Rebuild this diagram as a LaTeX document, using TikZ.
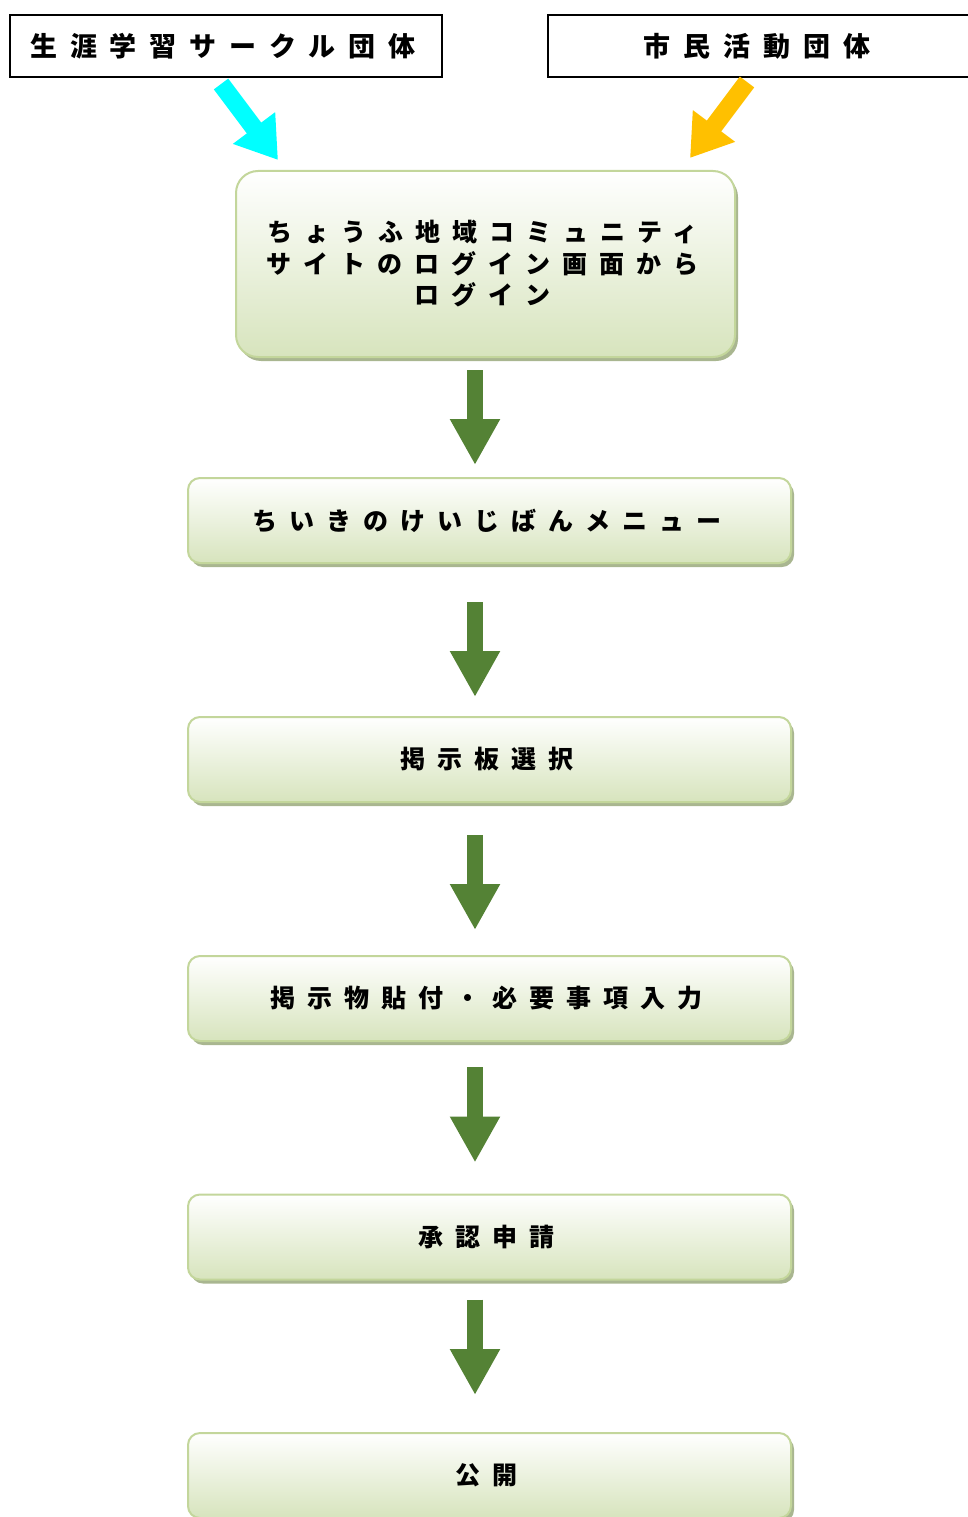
\documentclass[tikz,border=0pt]{standalone}
\usepackage{fontspec}
\newfontfamily\jp{Noto Sans CJK JP}[LetterSpace=48]
\usetikzlibrary{arrows.meta,shadows}

\definecolor{boxline}{HTML}{C3D69B}
\definecolor{boxfill}{HTML}{D7E4BD}
\definecolor{boxshade}{HTML}{A9B690}
\definecolor{flowgreen}{HTML}{548235}
\definecolor{leftcyan}{HTML}{00FFFF}
\definecolor{rightgold}{HTML}{FFC000}

\newcommand\tail{\kern6pt}

\tikzset{
  group/.style={draw=black, line width=1.5pt, fill=white, inner sep=0pt,
    minimum height=62pt, font=\jp\bfseries\fontsize{27}{30}\selectfont},
  stepbox/.style={draw=boxline, line width=2pt, rounded corners=12pt,
    top color=white, bottom color=boxfill, inner sep=0pt,
    minimum width=603pt, minimum height=85pt, align=center,
    font=\jp\bfseries\fontsize{25}{31.5}\selectfont,
    drop shadow={shadow xshift=3pt, shadow yshift=-4pt, fill=boxshade, opacity=1}},
  flow/.style={draw=flowgreen, line width=16pt, -{Triangle[width=47pt,length=46pt]}},
  slant/.style={draw=#1, line width=18pt, -{Triangle[width=50pt,length=40pt]}}
}

\begin{document}
\begin{tikzpicture}[x=1pt,y=-1pt]
\useasboundingbox (0,0) rectangle (968,1517);

% who posts
\node[group, minimum width=432pt] (circle) at (226,46) {生涯学習サークル団体\tail};
\node[group, minimum width=424pt] (civic) at (760,46) {市民活動団体\tail};

\coordinate (cyanfrom) at (221,84);
\coordinate (cyanto) at (278,160);
\coordinate (goldfrom) at (747,82);
\coordinate (goldto) at (690,158);
\draw[slant=leftcyan] (cyanfrom) -- (cyanto);
\draw[slant=rightgold] (goldfrom) -- (goldto);

% steps
\node[stepbox, minimum width=499pt, minimum height=186pt, rounded corners=22pt] (login) at (485.5,264)
  {ちょうふ地域コミュニティ\tail\\サイトのログイン画面から\tail\\ログイン\tail};
\node[stepbox] (menu) at (489.5,520.5) {ちいきのけいじばんメニュー\tail};
\node[stepbox] (board) at (489.5,759.5) {掲示板選択\tail};
\node[stepbox] (entry) at (489.5,998.5) {掲示物貼付・必要事項入力\tail};
\node[stepbox] (apply) at (489.5,1237) {承認申請\tail};
\node[stepbox] (open) at (489.5,1475.5) {公開\tail};

\coordinate (ax) at (475,0);
\draw[flow, shorten <=12pt, shorten >=12pt] (login.south -| ax) -- (menu.north -| ax);
\draw[flow, shorten <=38pt, shorten >=19pt] (menu.south -| ax) -- (board.north -| ax);
\draw[flow, shorten <=32pt, shorten >=25pt] (board.south -| ax) -- (entry.north -| ax);
\draw[flow, shorten <=25pt, shorten >=31pt] (entry.south -| ax) -- (apply.north -| ax);
\draw[flow, shorten <=19pt, shorten >=37pt] (apply.south -| ax) -- (open.north -| ax);

\end{tikzpicture}
\end{document}
